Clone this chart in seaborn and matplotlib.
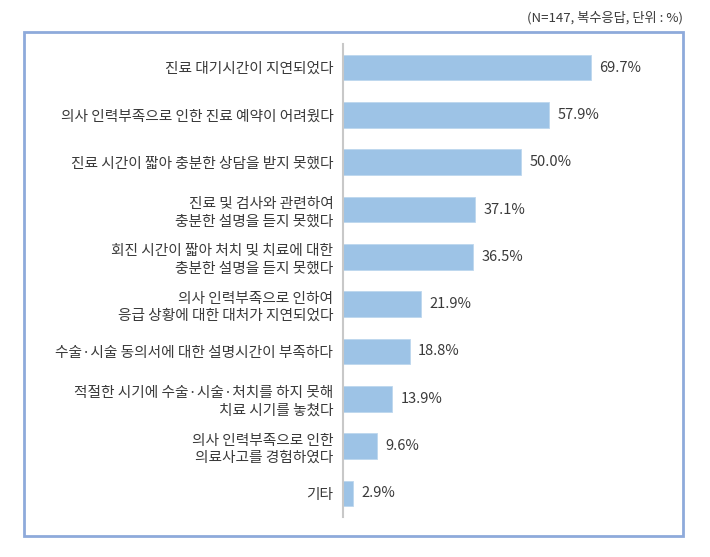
import matplotlib
matplotlib.use("Agg")
import matplotlib.pyplot as plt
import seaborn as sns
import pandas as pd
from matplotlib.patches import Rectangle

categories = [
    "진료 대기시간이 지연되었다",
    "의사 인력부족으로 인한 진료 예약이 어려웠다",
    "진료 시간이 짧아 충분한 상담을 받지 못했다",
    "진료 및 검사와 관련하여\n충분한 설명을 듣지 못했다",
    "회진 시간이 짧아 처치 및 치료에 대한\n충분한 설명을 듣지 못했다",
    "의사 인력부족으로 인하여\n응급 상황에 대한 대처가 지연되었다",
    "수술·시술 동의서에 대한 설명시간이 부족하다",
    "적절한 시기에 수술·시술·처치를 하지 못해\n치료 시기를 놓쳤다",
    "의사 인력부족으로 인한\n의료사고를 경험하였다",
    "기타",
]
values = [69.7, 57.9, 50.0, 37.1, 36.5, 21.9, 18.8, 13.9, 9.6, 2.9]
value_labels = ["69.7%", "57.9%", "50.0%", "37.1%", "36.5%", "21.9%", "18.8%", "13.9%", "9.6%", "2.9%"]
header = "(N=147, 복수응답, 단위 : %)"

sns.set_theme(style="white")
plt.rcParams['font.family'] = ['Noto Sans CJK KR', 'DejaVu Sans']

df = pd.DataFrame({"cat": categories, "val": values})

fig = plt.figure(figsize=(7.10, 5.57), dpi=100)
W, H = 710, 557
ax_left, ax_right = 343, 663
ax_top, ax_bottom = 44, 517
ax = fig.add_axes([ax_left / W, 1 - ax_bottom / H, (ax_right - ax_left) / W, (ax_bottom - ax_top) / H])

sns.barplot(data=df, x="val", y="cat", orient="h", color="#9DC3E6", width=0.54,
            saturation=1, ax=ax, edgecolor="#BDD7EE", linewidth=0.6)

xmax = (ax_right - ax_left) / 3.558
ax.set_xlim(0, xmax)
ax.set_ylim(9.5, -0.5)
ax.set_xlabel("")
ax.set_ylabel("")
ax.set_xticks([])
for s in ["top", "right", "bottom"]:
    ax.spines[s].set_visible(False)
ax.spines["left"].set_color("#C8C8C8")
ax.spines["left"].set_linewidth(1.5)
ax.tick_params(axis="y", length=0, pad=7)
for lab in ax.get_yticklabels():
    lab.set_fontsize(10.6)
    lab.set_color("#3A3A3A")
    lab.set_fontweight("medium")
    lab.set_linespacing(1.3)

for i, (v, t) in enumerate(zip(values, value_labels)):
    ax.annotate(t, xy=(v, i), xytext=(6, 0), textcoords="offset points",
                ha="left", va="center", fontsize=10.5, color="#3A3A3A",
                fontweight="medium")

ax.patch.set_alpha(0)

rect = Rectangle((24 / W, 1 - 536 / H), (683 - 24) / W, (536 - 32) / H,
                 transform=fig.transFigure, fill=False, edgecolor="#8EAADB",
                 linewidth=2.0, zorder=0)
fig.patches.append(rect)

fig.text(683 / W, 1 - 18 / H, header, ha="right", va="center",
         fontsize=9.5, color="#3A3A3A", fontweight="medium")

fig.savefig("out.png", dpi=100)
